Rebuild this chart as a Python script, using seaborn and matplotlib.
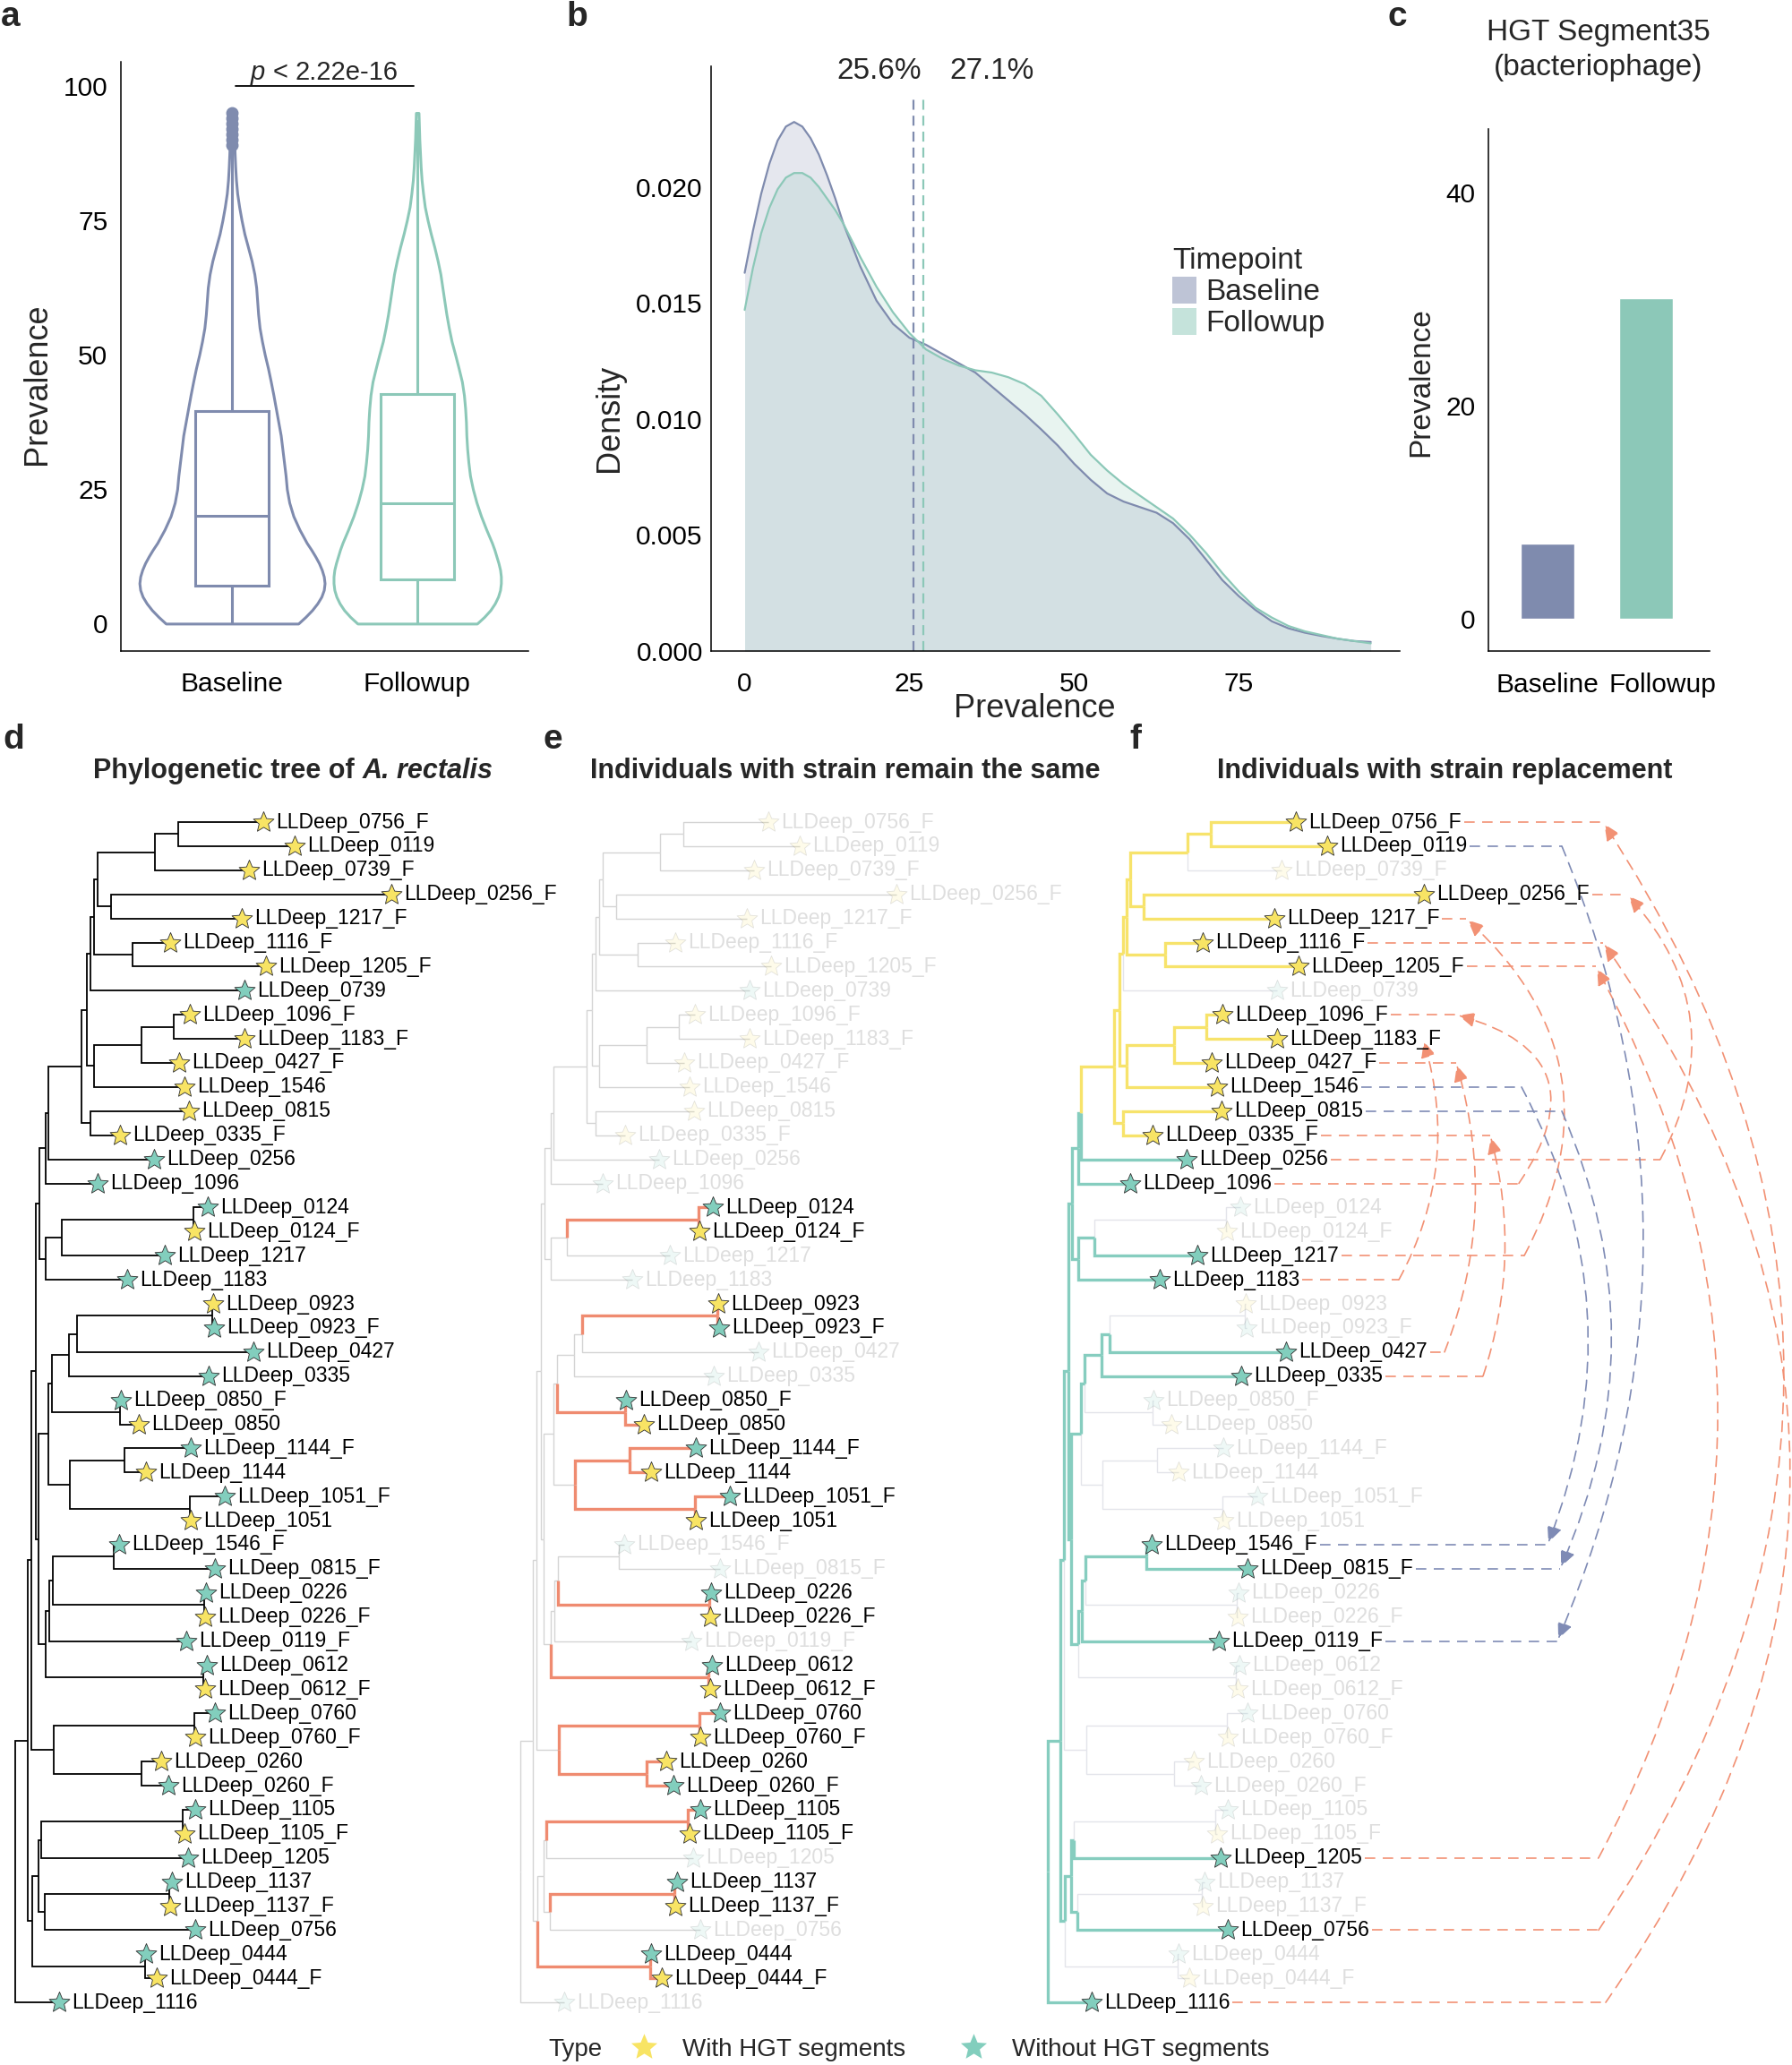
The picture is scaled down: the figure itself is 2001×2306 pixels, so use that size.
import numpy as np
import pandas as pd
import seaborn as sns
import matplotlib.pyplot as plt
from matplotlib.path import Path
from matplotlib.patches import FancyArrowPatch, Patch
from matplotlib.lines import Line2D
from matplotlib.transforms import ScaledTranslation

sns.set_style("white")
plt.rcParams["font.family"] = ["Liberation Sans", "DejaVu Sans"]

W, H = 2001, 2306

# ---------------- data: panels a-c ----------------
timepoints = ["Baseline", "Followup"]
prev_grid = [0, 1.25, 2.5, 3.75, 5, 6.25, 7.5, 8.75, 10, 11.25, 12.5, 13.75, 15, 17.5, 20,
             22.5, 25, 27.5, 30, 32.5, 35, 37.5, 40, 42.5, 45, 47.5, 50, 52.5, 55, 57.5, 60,
             62.5, 65, 67.5, 70, 72.5, 75, 77.5, 80, 82.5, 85, 87.5, 90, 92.5, 95]
dens_baseline = [0.0163, 0.0181, 0.0197, 0.0210, 0.0220, 0.0226, 0.0228, 0.0226, 0.0221, 0.0214,
                 0.0205, 0.0195, 0.0184, 0.0166, 0.0151, 0.0141, 0.0135, 0.0132, 0.0128, 0.0124,
                 0.0120, 0.0114, 0.0108, 0.0102, 0.00955, 0.00886, 0.00807, 0.00738, 0.00679,
                 0.00644, 0.00620, 0.00596, 0.00551, 0.00482, 0.00394, 0.00305, 0.00236, 0.00177,
                 0.00128, 0.00098, 0.00079, 0.00065, 0.00053, 0.00043, 0.00039]
dens_followup = [0.0147, 0.0165, 0.0180, 0.0191, 0.0199, 0.0204, 0.0206, 0.0206, 0.0204, 0.0200,
                 0.0195, 0.0190, 0.0184, 0.0170, 0.0157, 0.0146, 0.0137, 0.0130, 0.0126, 0.0123,
                 0.0121, 0.0120, 0.0118, 0.0115, 0.0110, 0.0102, 0.00935, 0.00846, 0.00778,
                 0.00719, 0.00669, 0.00620, 0.00571, 0.00502, 0.00423, 0.00335, 0.00256, 0.00187,
                 0.00144, 0.00108, 0.00085, 0.00069, 0.00053, 0.00043, 0.00033]
mean_prev = [25.6, 27.1]
box_q1 = [7.0, 8.2]
box_median = [20.0, 22.3]
box_q3 = [39.5, 42.7]
whisker_low = [0.0, 0.0]
whisker_high = [88.5, 93.5]
outliers_baseline = [89, 90, 91, 92, 93, 94, 95]
outliers_followup = []
seg35_prevalence = [7.05, 30.1]

# ---------------- data: phylogeny (d-f) ----------------
tree_newick = (
    "((((((((((((((LLDeep_0756_F:0.095,LLDeep_0119:0.130):0.026,LLDeep_0739_F:0.105):0.064,"
    "(LLDeep_0256_F:0.313,LLDeep_1217_F:0.146):0.015):0.004,"
    "(LLDeep_1116_F:0.042,LLDeep_1205_F:0.149):0.043):0.004,LLDeep_0739:0.172):0.004,"
    "(((LLDeep_1096_F:0.018,LLDeep_1183_F:0.079):0.036,LLDeep_0427_F:0.042):0.053,"
    "LLDeep_1546:0.101):0.008):0.006,(LLDeep_0815:0.110,LLDeep_0335_F:0.033):0.010):0.037,"
    "LLDeep_0256:0.118):0.003,LLDeep_1096:0.058):0.007,"
    "(((LLDeep_0124:0.016,LLDeep_0124_F:0.001):0.147,LLDeep_1217:0.115):0.018,"
    "LLDeep_1183:0.091):0.007):0.004,"
    "((((((LLDeep_0923:0.001,LLDeep_0923_F:0.002):0.151,LLDeep_0427:0.197):0.009,"
    "LLDeep_0335:0.156):0.019,(LLDeep_0850_F:0.001,LLDeep_0850:0.021):0.076):0.004,"
    "((LLDeep_1144_F:0.074,LLDeep_1144:0.024):0.061,"
    "(LLDeep_1051_F:0.039,LLDeep_1051:0.001):0.134):0.024):0.011,"
    "((((LLDeep_1546_F:0.006,LLDeep_0815_F:0.113):0.068,"
    "(LLDeep_0226:0.002,LLDeep_0226_F:0.001):0.169):0.004,LLDeep_0119_F:0.153):0.004,"
    "(LLDeep_0612:0.004,LLDeep_0612_F:0.002):0.176):0.008):0.003):0.005,"
    "((LLDeep_0760:0.023,LLDeep_0760_F:0.001):0.157,"
    "(LLDeep_0260:0.022,LLDeep_0260_F:0.030):0.098):0.025):0.004,"
    "((((LLDeep_1105:0.014,LLDeep_1105_F:0.002):0.158,LLDeep_1205:0.164):0.003,"
    "((LLDeep_1137:0.003,LLDeep_1137_F:0.001):0.139,LLDeep_0756:0.168):0.007):0.007,"
    "(LLDeep_0444:0.001,LLDeep_0444_F:0.013):0.126):0.005):0.014,LLDeep_1116:0.049);"
)
hgt_tips = ["LLDeep_0756_F", "LLDeep_0119", "LLDeep_0739_F", "LLDeep_0256_F", "LLDeep_1217_F",
            "LLDeep_1116_F", "LLDeep_1205_F", "LLDeep_1096_F", "LLDeep_1183_F", "LLDeep_0427_F",
            "LLDeep_1546", "LLDeep_0815", "LLDeep_0335_F", "LLDeep_0124_F", "LLDeep_0923",
            "LLDeep_0850", "LLDeep_1144", "LLDeep_1051", "LLDeep_0226_F", "LLDeep_0612_F",
            "LLDeep_0760_F", "LLDeep_0260", "LLDeep_1105_F", "LLDeep_1137_F", "LLDeep_0444_F"]
same_strain_ids = ["0124", "0923", "0850", "1144", "1051", "0226", "0612", "0760", "0260",
                   "1105", "1137", "0444"]
replaced_ids = ["0756", "0119", "0256", "1217", "1116", "1205", "1096", "1183", "0427",
                "1546", "0815", "0335"]

# arrow anchor x (figure px) at the baseline / followup tips, and arc curvature
arrow_layout = {
    "0756": (1785, 1790, 0.33), "1116": (1793, 1790, 0.35), "1205": (1785, 1782, 0.27),
    "0256": (1854, 1817, 0.35), "1217": (1702, 1637, 0.39), "1096": (1696, 1626, 0.70),
    "1183": (1562, 1589, 0.21), "0427": (1613, 1626, 0.17), "0335": (1656, 1664, 0.15),
    "0119": (1744, 1739, 0.21), "1546": (1699, 1728, 0.23), "0815": (1744, 1742, 0.22),
}

BASE_C, FOLL_C = "#7F8BAE", "#8CC8B8"
YEL, TEAL = "#F8E464", "#82CEBD"
YEL_LINE, TEAL_LINE = "#F7E36B", "#86CDBF"
ORANGE_TREE, ORANGE_ARROW, BLUE_ARROW = "#EF8B70", "#F29174", "#7F8BB5"

fig = plt.figure(figsize=(W / 100, H / 100), dpi=100)
renderer = fig.canvas.get_renderer()


def add_ax(l, t, r, b):
    return fig.add_axes([l / W, 1 - b / H, (r - l) / W, (b - t) / H])


def text_width(s, size, **kw):
    t = fig.text(0, 0, s, fontsize=size, **kw)
    w = t.get_window_extent(renderer).width
    t.remove()
    return w


def rich_text(x_px, y_px, parts, size):
    gap = text_width("x x", size) - text_width("xx", size)
    objs = [fig.text(0, 1 - y_px / H, s, fontsize=size, va="baseline", **kw) for s, kw in parts]
    widths = [o.get_window_extent(renderer).width for o in objs]
    x = x_px - (sum(widths) + gap * (len(objs) - 1)) / 2
    for o, w in zip(objs, widths):
        o.set_x(x / W)
        x += w + gap


def style_axis(ax, xpad, ypad):
    sns.despine(ax=ax)
    for s in ["left", "bottom"]:
        ax.spines[s].set_linewidth(1.1)
        ax.spines[s].set_color("black")
    ax.tick_params(axis="both", length=3.6, width=1.1, color="black", labelsize=21.5,
                   labelcolor="black", direction="out")
    ax.tick_params(axis="x", pad=xpad)
    ax.tick_params(axis="y", pad=ypad)


# ---------------- panel a ----------------
ax = add_ax(135, 69, 590, 727)
dmax = max(dens_baseline + dens_followup)
box_fliers = [outliers_baseline, outliers_followup]
for i, (dens, col) in enumerate(zip([dens_baseline, dens_followup], [BASE_C, FOLL_C])):
    pos = i + 1
    hw = np.array(dens) / dmax * 0.5
    ax.fill_betweenx(prev_grid, pos - hw, pos + hw, facecolor="white", edgecolor=col, lw=2.2,
                     zorder=1)
    stats = [dict(med=box_median[i], q1=box_q1[i], q3=box_q3[i], whislo=whisker_low[i],
                  whishi=whisker_high[i], fliers=box_fliers[i])]
    ax.bxp(stats, positions=[pos], widths=0.4, showcaps=False, patch_artist=True,
           boxprops=dict(facecolor="white", edgecolor=col, lw=2.2),
           medianprops=dict(color=col, lw=2.2), whiskerprops=dict(color=col, lw=2.2),
           flierprops=dict(marker="o", mfc=col, mec=col, ms=9), manage_ticks=False)
ax.set_xlim(0.4, 2.6)
ax.set_ylim(-5.1, 104.5)
ax.set_xticks([1, 2], timepoints)
ax.set_yticks([0, 25, 50, 75, 100])
ax.set_ylabel("Prevalence", fontsize=26)
ax.yaxis.set_label_coords(-0.168, 0.453)
style_axis(ax, 13, 7)
ax.plot([1.02, 1.98], [100, 100], color="black", lw=1.3, clip_on=False)
rich_text(362, 89, [("p", dict(style="italic")), ("<", {}), ("2.22e-16", {})], 21)

# ---------------- panel b ----------------
ax = add_ax(794, 74, 1563, 727)
for dens, col in zip([dens_baseline, dens_followup], [BASE_C, FOLL_C]):
    ax.fill_between(prev_grid, dens, color=col, alpha=0.2, lw=0)
n = len(prev_grid)
df = pd.DataFrame({"Prevalence": prev_grid * 2,
                   "Density": dens_baseline + dens_followup,
                   "Timepoint": ["Baseline"] * n + ["Followup"] * n})
sns.lineplot(data=df, x="Prevalence", y="Density", hue="Timepoint",
             palette=[BASE_C, FOLL_C], lw=1.6, legend=False, ax=ax)
for m, col in zip(mean_prev, [BASE_C, FOLL_C]):
    ax.plot([m, m], [0, 0.0238], ls=(0, (5, 3)), color=col, lw=1.6)
ax.text(mean_prev[0] + 1.3, 0.0250, f"{mean_prev[0]}%", ha="right", va="center", fontsize=24,
        clip_on=False)
ax.text(mean_prev[1] + 4.0, 0.0250, f"{mean_prev[1]}%", ha="left", va="center", fontsize=24,
        clip_on=False)
ax.set_xlim(-5.1, 99.4)
ax.set_ylim(0, 0.0252)
ax.set_xticks([0, 25, 50, 75])
ax.set_yticks([0, 0.005, 0.010, 0.015, 0.020], ["0.000", "0.005", "0.010", "0.015", "0.020"])
ax.set_xlabel("Prevalence", fontsize=26)
ax.set_ylabel("Density", fontsize=26)
ax.xaxis.set_label_coords((1155 - 794) / 769, -0.072)
ax.yaxis.set_label_coords(-0.125, 0.398)
style_axis(ax, 13, 3)
handles = [Patch(facecolor=c, alpha=0.5, edgecolor="none") for c in [BASE_C, FOLL_C]]
leg = ax.legend(handles, timepoints, title="Timepoint", fontsize=24, title_fontsize=24,
                frameon=False, loc="upper left", bbox_to_anchor=((1309 - 794) / 769, (727 - 276) / 653),
                handlelength=0.8, handleheight=1.0, labelspacing=0.05, handletextpad=0.33,
                borderpad=0, borderaxespad=0)
leg._legend_box.align = "left"

# ---------------- panel c ----------------
ax = add_ax(1662, 144, 1909, 727)
sns.barplot(x=timepoints, y=seg35_prevalence, hue=timepoints, palette=[BASE_C, FOLL_C],
            width=0.54, saturation=1, legend=False, ax=ax)
ax.set_xlim(-0.593, 1.638)
ax.set_ylim(-3.0, 46)
ax.set_yticks([0, 20, 40])
ax.set_ylabel("Prevalence", fontsize=24)
ax.yaxis.set_label_coords((1602 - 1662) / 247, 0.516)
style_axis(ax, 14, 7)
lab = ax.get_xticklabels()[1]
lab.set_transform(lab.get_transform() + ScaledTranslation(18 / 100, 0, fig.dpi_scale_trans))
fig.text(1785 / W, 1 - 56 / H, "HGT Segment35\n(bacteriophage)", ha="center", va="center",
         fontsize=24, linespacing=1.33)


# ---------------- tree helpers ----------------
def parse_newick(s):
    pos = 0

    def node():
        nonlocal pos
        children = []
        if s[pos] == "(":
            pos += 1
            while True:
                children.append(node())
                if s[pos] == ",":
                    pos += 1
                    continue
                pos += 1
                break
        start = pos
        while s[pos] not in ":,);":
            pos += 1
        name = s[start:pos]
        length = 0.0
        if s[pos] == ":":
            pos += 1
            start = pos
            while s[pos] not in ",);":
                pos += 1
            length = float(s[start:pos])
        return {"name": name, "len": length, "children": children}

    return node()


root = parse_newick(tree_newick)
tips, edges = [], []


def layout(nd, parent_x=0.0):
    nd["x"] = parent_x + nd["len"]
    if not nd["children"]:
        nd["y"] = len(tips)
        nd["tips"] = [nd]
        tips.append(nd)
    else:
        for c in nd["children"]:
            edges.append((nd, c))
            layout(c, nd["x"])
        nd["y"] = np.mean([c["y"] for c in nd["children"]])
        nd["tips"] = [t for c in nd["children"] for t in c["tips"]]


layout(root)


def sample_id(name):
    return name.replace("LLDeep_", "").replace("_F", "")


STAR = Path.unit_regular_star(5, 0.45)
TREE_TOP, TREE_BOT = 880, 2270
TIP_Y0, TIP_DY = 918, 26.9
PX_UNIT = 1000.0


def draw_tree(ax, root_px, left_px, right_px, edge_style, tip_full):
    ax.set_xlim((left_px - root_px) / PX_UNIT, (right_px - root_px) / PX_UNIT)
    ax.set_ylim((TREE_BOT - TIP_Y0) / TIP_DY, (TREE_TOP - TIP_Y0) / TIP_DY)
    ax.set_axis_off()
    ax.patch.set_visible(False)
    for parent, child in edges:
        color, lw, z = edge_style(child)
        ax.plot([parent["x"], parent["x"], child["x"]], [parent["y"], child["y"], child["y"]],
                color=color, lw=lw, zorder=z, solid_capstyle="butt", solid_joinstyle="miter")
    labels = {}
    for tip in tips:
        a = 1.0 if tip_full(tip) else 0.13
        col = YEL if tip["name"] in hgt_tips else TEAL
        ax.scatter([tip["x"]], [tip["y"]], marker=STAR, s=300, color=col, edgecolors="#303030",
                   linewidths=0.6, alpha=a, zorder=4)
        labels[tip["name"]] = ax.annotate(tip["name"], (tip["x"], tip["y"]), xytext=(10, 0),
                                          textcoords="offset points", va="center", ha="left",
                                          fontsize=16.5, color="black", alpha=a, zorder=5)
    return labels


# ---------------- panel d ----------------
ax_d = add_ax(0, TREE_TOP, 600, TREE_BOT)
draw_tree(ax_d, 17, 0, 600, lambda c: ("black", 1.3, 2), lambda t: True)


# ---------------- panel e ----------------
def in_same(t):
    return sample_id(t["name"]) in same_strain_ids


def e_style(c):
    if not c["children"]:
        hit = in_same(c)
    else:
        hit = all((not k["children"]) and in_same(k) for k in c["children"])
    return (ORANGE_TREE, 2.4, 3) if hit else ("#D4D4D4", 1.0, 2)


ax_e = add_ax(570, TREE_TOP, 1160, TREE_BOT)
draw_tree(ax_e, 581, 570, 1160, e_style, in_same)


# ---------------- panel f ----------------
def in_repl(t):
    return sample_id(t["name"]) in replaced_ids


def f_style(c):
    hl = [t for t in c["tips"] if in_repl(t)]
    if not hl:
        return ("#E3E4EA", 1.0, 2)
    if any(t["name"] not in hgt_tips for t in hl):
        return (TEAL_LINE, 2.4, 3)
    return (YEL_LINE, 2.4, 3)


F_ROOT = 1170
ax_f = add_ax(1160, TREE_TOP, 2001, TREE_BOT)
labels_f = draw_tree(ax_f, F_ROOT, 1160, 2001, f_style, in_repl)

# ---------------- titles, letters, legend ----------------
rich_text(327, 869, [("Phylogenetic tree of", dict(weight="bold")),
                     ("A. rectalis", dict(weight="bold", style="italic"))], 22)
fig.text(944 / W, 1 - 869 / H, "Individuals with strain remain the same", ha="center",
         va="baseline", fontsize=22, weight="bold")
fig.text(1613 / W, 1 - 869 / H, "Individuals with strain replacement", ha="center",
         va="baseline", fontsize=22, weight="bold")
for letter, x, y in [("a", 1, 29), ("b", 632, 29), ("c", 1549, 29),
                     ("d", 3, 836), ("e", 606, 836), ("f", 1261, 836)]:
    fig.text(x / W, 1 - y / H, letter, fontsize=28, weight="bold", va="baseline", ha="left")

fig.text(612 / W, 1 - 2289 / H, "Type", fontsize=20, va="center", ha="left")
leg_handles = [Line2D([0], [0], marker=STAR, ls="none", mfc=c, mec="none", ms=22)
               for c in [YEL, TEAL]]
fig.legend(leg_handles, ["With HGT segments", "Without HGT segments"], loc="center left",
           bbox_to_anchor=(702 / W, 1 - 2289 / H), ncol=2, frameon=False, fontsize=20,
           handlelength=1.2, handletextpad=0.95, columnspacing=2.15, borderpad=0,
           borderaxespad=0)

# ---------------- panel f: dashed links between timepoints ----------------
fig.canvas.draw()
inv = ax_f.transData.inverted()
tip_by_name = {t["name"]: t for t in tips}
dash = (0, (7, 5))
for sid, (xs_px, xt_px, rad) in arrow_layout.items():
    src, dst = tip_by_name[f"LLDeep_{sid}"], tip_by_name[f"LLDeep_{sid}_F"]
    col = BLUE_ARROW if src["name"] in hgt_tips else ORANGE_ARROW
    xs, xt = (xs_px - F_ROOT) / PX_UNIT, (xt_px - F_ROOT) / PX_UNIT
    for tip, xa in [(src, xs), (dst, xt)]:
        bb = labels_f[tip["name"]].get_window_extent(renderer)
        x_end = inv.transform((bb.x1 + 3, 0))[0]
        if xa > x_end:
            ax_f.plot([x_end, xa], [tip["y"], tip["y"]], color=col, lw=1.2, ls=dash, zorder=3)
    sign = 1 if dst["y"] < src["y"] else -1
    arr = FancyArrowPatch((xs, src["y"]), (xt, dst["y"]), connectionstyle=f"arc3,rad={sign * rad}",
                          arrowstyle="-|>,head_length=0.55,head_width=0.25", mutation_scale=20,
                          color=col, lw=1.2, linestyle=dash, shrinkA=0, shrinkB=2,
                          clip_on=False, zorder=3)
    ax_f.add_patch(arr)

fig.savefig("out.png", dpi=100)
